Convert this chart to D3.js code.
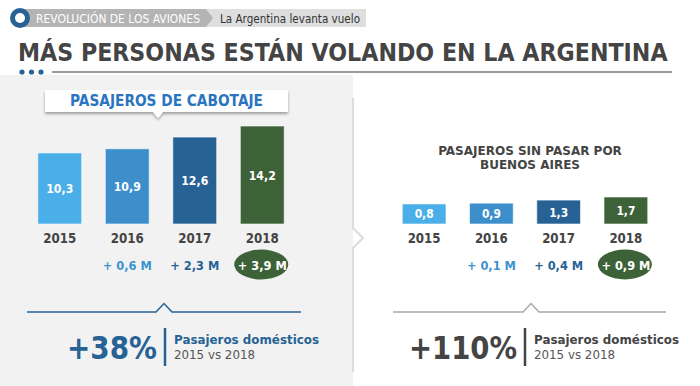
<!DOCTYPE html>
<html>
<head>
<meta charset="utf-8">
<script src="https://cdn.jsdelivr.net/npm/d3@7"></script>
<style>
  body { margin: 0; background: #fff; }
  svg { display: block; font-family: "DejaVu Sans", Verdana, sans-serif; }
</style>
</head>
<body>
<div id="chart"></div>
<script>
// valores
var years = ['2015', '2016', '2017', '2018'];
var cabotaje = [10.3, 10.9, 12.6, 14.2];
var cabotajeDelta = ['', '+ 0,6 M', '+ 2,3 M', '+ 3,9 M'];
var interior = [0.8, 0.9, 1.3, 1.7];
var interiorDelta = ['', '+ 0,1 M', '+ 0,4 M', '+ 0,9 M'];
var growth = ['+38%', '+110%'];

var barColors = ['#4aaee8', '#3d8fcc', '#276294', '#3e6237'];
var deltaColors = ['', '#3d92d0', '#276294', '#ffffff'];
var blue = '#276294';
var dark = '#444444';

var width = 700, height = 386;
var fmt = function(v) { return d3.format('.1f')(v).replace('.', ','); };

var svg = d3.select('#chart').append('svg')
    .attr('width', width)
    .attr('height', height);

var defs = svg.append('defs');
defs.append('filter').attr('id', 'shadow')
    .attr('x', '-10%').attr('y', '-30%').attr('width', '120%').attr('height', '180%')
  .append('feDropShadow')
    .attr('dx', 0).attr('dy', 2).attr('stdDeviation', 1.5)
    .attr('flood-color', '#000').attr('flood-opacity', 0.35);

// fondo del panel izquierdo
svg.append('rect')
    .attr('x', 0).attr('y', 75).attr('width', 353).attr('height', height - 75)
    .attr('fill', '#f2f2f2');

// divisor con flecha
svg.append('polyline')
    .attr('points', '353,98 353,228 363,238 353,248 353,372')
    .attr('fill', 'none').attr('stroke', '#dcdcdc').attr('stroke-width', 2);

// cabecera
var tag = svg.append('g');
tag.append('rect').attr('x', 206).attr('y', 9).attr('width', 160).attr('height', 18).attr('fill', '#dedede');
tag.append('path').attr('d', 'M20,9 H206 L213,18 L206,27 H20 Z').attr('fill', '#b4b4b4');
tag.append('circle').attr('cx', 20).attr('cy', 18).attr('r', 10).attr('fill', blue);
tag.append('circle').attr('cx', 20).attr('cy', 18).attr('r', 5).attr('fill', '#fff');
tag.append('text').attr('x', 36).attr('y', 22.5)
    .attr('font-size', 12).attr('fill', '#fff')
    .attr('textLength', 164).attr('lengthAdjust', 'spacingAndGlyphs')
    .text('REVOLUCIÓN DE LOS AVIONES');
tag.append('text').attr('x', 220).attr('y', 22.5)
    .attr('font-size', 12).attr('fill', '#333')
    .attr('textLength', 140).attr('lengthAdjust', 'spacingAndGlyphs')
    .text('La Argentina levanta vuelo');

// titulo principal, comprimido en x para que entre en 650px
var title = svg.append('text')
    .attr('font-size', 24).attr('font-weight', 'bold').attr('fill', dark)
    .text('MÁS PERSONAS ESTÁN VOLANDO EN LA ARGENTINA');
var titleW = title.node().getComputedTextLength();
title.attr('transform', 'translate(18,61) scale(' + (650 / titleW) + ',1)');

svg.append('line')
    .attr('x1', 52).attr('x2', 672).attr('y1', 72).attr('y2', 72)
    .attr('stroke', '#7a7a7a').attr('stroke-width', 1.5);
svg.selectAll('circle.dot').data([22, 31.5, 41]).enter().append('circle')
    .attr('class', 'dot')
    .attr('cx', function(d) { return d; }).attr('cy', 72).attr('r', 2.6)
    .attr('fill', blue);

// recuadro titulo izquierdo
var box = svg.append('g');
box.append('path')
    .attr('d', 'M45,90 H288 V112 H163 L158,118 L153,112 H45 Z')
    .attr('fill', '#fff').attr('filter', 'url(#shadow)');
box.append('text')
    .attr('x', 166.5).attr('y', 106).attr('text-anchor', 'middle')
    .attr('font-size', 15).attr('font-weight', 'bold').attr('fill', '#2b74c0')
    .attr('textLength', 193).attr('lengthAdjust', 'spacingAndGlyphs')
    .text('PASAJEROS DE CABOTAJE');

// titulo derecho
svg.append('text')
    .attr('text-anchor', 'middle').attr('font-size', 12).attr('font-weight', 'bold').attr('fill', dark)
    .selectAll('tspan').data(['PASAJEROS SIN PASAR POR', 'BUENOS AIRES']).enter().append('tspan')
    .attr('x', 530).attr('y', function(d, i) { return 154.5 + i * 14; })
    .text(function(d) { return d; });

function drawBars(cfg) {
    var g = svg.append('g');
    var x = cfg.x, y = cfg.y;

    g.selectAll('rect.bar').data(cfg.values).enter().append('rect')
        .attr('class', 'bar')
        .attr('x', function(d, i) { return x(years[i]); })
        .attr('y', function(d) { return y(d); })
        .attr('width', x.bandwidth())
        .attr('height', function(d) { return y.range()[0] - y(d); })
        .attr('fill', function(d, i) { return barColors[i]; })
        .attr('stroke', 'rgba(255,255,255,0.6)').attr('stroke-width', 1);

    g.selectAll('text.val').data(cfg.values).enter().append('text')
        .attr('class', 'val')
        .attr('x', function(d, i) { return x(years[i]) + x.bandwidth() / 2; })
        .attr('y', function(d) { return (y(d) + y.range()[0]) / 2 + 4.5; })
        .attr('text-anchor', 'middle')
        .attr('font-size', cfg.valueSize).attr('font-weight', 'bold').attr('fill', '#fff')
        .attr('textLength', cfg.valueWidth).attr('lengthAdjust', 'spacingAndGlyphs')
        .text(fmt);

    g.selectAll('text.year').data(years).enter().append('text')
        .attr('class', 'year')
        .attr('x', function(d) { return x(d) + x.bandwidth() / 2; })
        .attr('y', 243)
        .attr('text-anchor', 'middle')
        .attr('font-size', 14).attr('font-weight', 'bold').attr('fill', dark)
        .attr('textLength', 33).attr('lengthAdjust', 'spacingAndGlyphs')
        .text(function(d) { return d; });

    var last = years.length - 1;
    g.append('ellipse')
        .attr('cx', x(years[last]) + x.bandwidth() / 2 - 1)
        .attr('cy', 264.5).attr('rx', 27).attr('ry', 15)
        .attr('fill', barColors[last]);

    g.selectAll('text.delta').data(cfg.deltas).enter().append('text')
        .attr('class', 'delta')
        .attr('x', function(d, i) { return x(years[i]) + x.bandwidth() / 2; })
        .attr('y', 269.5)
        .attr('text-anchor', 'middle')
        .attr('font-size', 13).attr('font-weight', 'bold')
        .attr('fill', function(d, i) { return deltaColors[i]; })
        .attr('textLength', function(d) { return d ? 49 : null; })
        .attr('lengthAdjust', 'spacingAndGlyphs')
        .text(function(d) { return d; });
}

drawBars({
    x: d3.scaleBand().domain(years).range([26, 296]).paddingInner(0.35).paddingOuter(0.175),
    y: d3.scaleLinear().domain([0, 14.2]).range([224, 126]),
    values: cabotaje,
    deltas: cabotajeDelta,
    valueSize: 13,
    valueWidth: 27
});

drawBars({
    x: d3.scaleBand().domain(years).range([390.5, 659.5]).paddingInner(0.35).paddingOuter(0.175),
    y: d3.scaleLinear().domain([-1.8, 1.7]).range([224, 197]),
    values: interior,
    deltas: interiorDelta,
    valueSize: 12,
    valueWidth: 19
});

function drawSummary(cfg) {
    var g = svg.append('g');
    g.append('polyline')
        .attr('points', [[cfg.x0, 312], [cfg.cx - 8, 312], [cfg.cx, 303.5], [cfg.cx + 8, 312], [cfg.x1, 312]].join(' '))
        .attr('fill', 'none').attr('stroke', cfg.line).attr('stroke-width', 1.5);
    g.append('text')
        .attr('x', cfg.bar - 8).attr('y', 358.5).attr('text-anchor', 'end')
        .attr('font-size', 32).attr('font-weight', 'bold').attr('fill', cfg.color)
        .attr('textLength', cfg.bigWidth).attr('lengthAdjust', 'spacingAndGlyphs')
        .text(cfg.text);
    g.append('line')
        .attr('x1', cfg.bar).attr('x2', cfg.bar).attr('y1', 328).attr('y2', 366)
        .attr('stroke', cfg.color).attr('stroke-width', 2.5);
    g.append('text')
        .attr('x', cfg.bar + 9).attr('y', 344)
        .attr('font-size', 13).attr('font-weight', 'bold').attr('fill', cfg.color)
        .attr('textLength', 145).attr('lengthAdjust', 'spacingAndGlyphs')
        .text('Pasajeros domésticos');
    g.append('text')
        .attr('x', cfg.bar + 9).attr('y', 358.5)
        .attr('font-size', 13).attr('fill', '#555')
        .attr('textLength', 81).attr('lengthAdjust', 'spacingAndGlyphs')
        .text('2015 vs 2018');
}

drawSummary({ x0: 27, x1: 301, cx: 164, bar: 165, text: growth[0], bigWidth: 90, color: blue, line: blue });
drawSummary({ x0: 393, x1: 666, cx: 531, bar: 525, text: growth[1], bigWidth: 108, color: dark, line: '#a8a8a8' });
</script>
</body>
</html>
